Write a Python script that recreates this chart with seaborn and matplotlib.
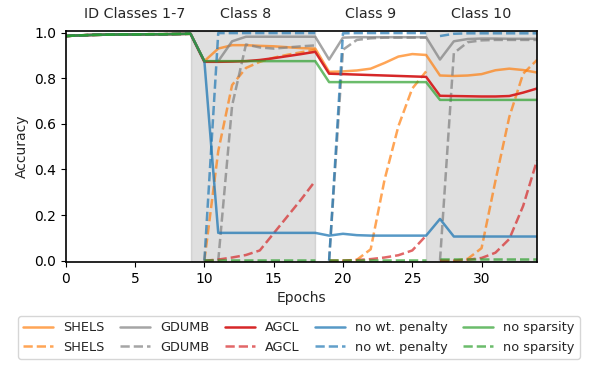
import numpy as np
import pandas as pd
import matplotlib
matplotlib.use('Agg')
import matplotlib.pyplot as plt
from matplotlib.lines import Line2D
import seaborn as sns

# Épocas y segmentos (una fase por clase nueva).
epochs = list(range(35))
segment = [0] * 10 + [1] * 9 + [2] * 8 + [3] * 8

base = [0.985, 0.988, 0.990, 0.991, 0.992, 0.992, 0.993, 0.993, 0.994, 0.995]

shels_solid = base + [0.875, 0.930, 0.945, 0.945, 0.942, 0.940, 0.936, 0.932, 0.930] \
    + [0.828, 0.830, 0.834, 0.842, 0.867, 0.895, 0.906, 0.902] \
    + [0.812, 0.810, 0.812, 0.818, 0.835, 0.842, 0.836, 0.825]
shels_dash = base + [0.0, 0.48, 0.77, 0.845, 0.872, 0.890, 0.903, 0.914, 0.925] \
    + [0.0, 0.0, 0.004, 0.05, 0.355, 0.59, 0.755, 0.83] \
    + [0.0, 0.0, 0.008, 0.055, 0.35, 0.63, 0.82, 0.88]

gdumb_solid = base + [0.873, 0.875, 0.962, 0.982, 0.982, 0.982, 0.982, 0.982, 0.982] \
    + [0.882, 0.978, 0.980, 0.980, 0.980, 0.980, 0.980, 0.980] \
    + [0.882, 0.962, 0.972, 0.974, 0.974, 0.973, 0.973, 0.973]
gdumb_dash = base + [0.0, 0.0, 0.68, 0.948, 0.935, 0.930, 0.935, 0.940, 0.944] \
    + [0.0, 0.925, 0.968, 0.975, 0.978, 0.978, 0.978, 0.978] \
    + [0.0, 0.91, 0.958, 0.966, 0.968, 0.968, 0.968, 0.968]

agcl_solid = base + [0.872, 0.872, 0.873, 0.875, 0.880, 0.888, 0.897, 0.906, 0.916] \
    + [0.820, 0.818, 0.816, 0.814, 0.812, 0.810, 0.808, 0.806] \
    + [0.723, 0.722, 0.721, 0.720, 0.720, 0.722, 0.737, 0.755]
agcl_dash = base + [0.0, 0.005, 0.014, 0.025, 0.045, 0.12, 0.195, 0.27, 0.35] \
    + [0.0, 0.0, 0.003, 0.007, 0.014, 0.024, 0.045, 0.11] \
    + [0.0, 0.0, 0.004, 0.012, 0.035, 0.095, 0.24, 0.44]

nowt_solid = base + [0.875, 0.122, 0.122, 0.122, 0.122, 0.122, 0.122, 0.122, 0.122] \
    + [0.110, 0.118, 0.112, 0.110, 0.110, 0.110, 0.110, 0.110] \
    + [0.183, 0.106, 0.106, 0.106, 0.106, 0.106, 0.106, 0.106]
nowt_dash = base + [0.0, 0.998, 0.998, 0.998, 0.998, 0.998, 0.998, 0.998, 0.998] \
    + [0.0, 0.997, 0.998, 0.998, 0.998, 0.998, 0.998, 0.998] \
    + [0.985, 0.995, 0.997, 0.997, 0.997, 0.997, 0.997, 0.997]

nospar_solid = base + [0.875] * 9 + [0.783] * 8 + [0.705] * 8
nospar_dash = base + [0.003] * 9 + [0.003] * 8 + [0.006] * 8

methods = ['SHELS', 'GDUMB', 'AGCL', 'no wt. penalty', 'no sparsity']
colors = ['tab:orange', 'tab:gray', 'tab:red', 'tab:blue', 'tab:green']
solid_alpha = [0.7, 0.7, 1.0, 0.75, 0.7]
series = {
    'SHELS': (shels_solid, shels_dash),
    'GDUMB': (gdumb_solid, gdumb_dash),
    'AGCL': (agcl_solid, agcl_dash),
    'no wt. penalty': (nowt_solid, nowt_dash),
    'no sparsity': (nospar_solid, nospar_dash),
}

phase_labels = ['ID Classes 1-7', 'Class 8', 'Class 9', 'Class 10']
phase_centers = [5, 13, 22, 30]

sns.set_style('ticks')
fig = plt.figure(figsize=(5.98, 3.65), dpi=100)
ax = fig.add_axes([0.110, 0.282, 0.788, 0.633])

# Zonas sombreadas.
ax.axvspan(9, 18, color='gray', alpha=0.25, lw=1)
ax.axvspan(26, 34, color='gray', alpha=0.25, lw=1)

handles_solid, handles_dash = [], []
for m, c, a in zip(methods, colors, solid_alpha):
    solid, dash = series[m]
    df_s = pd.DataFrame({'Epoch': epochs, 'Acc': solid})
    df_d = pd.DataFrame({'Epoch': epochs, 'Acc': dash, 'seg': segment})
    sns.lineplot(data=df_s, x='Epoch', y='Acc', color=c, alpha=a, lw=1.8, ax=ax)
    sns.lineplot(data=df_d, x='Epoch', y='Acc', units='seg', estimator=None,
                 color=c, alpha=0.7, lw=1.8, ls='--', ax=ax)
    handles_solid.append(Line2D([], [], color=c, alpha=a, lw=1.8, label=m))
    handles_dash.append(Line2D([], [], color=c, alpha=0.7, lw=1.8, ls='--', label=m))

handles = []
for hs, hd in zip(handles_solid, handles_dash):
    handles += [hs, hd]

for lab, xc in zip(phase_labels, phase_centers):
    ax.text(xc, 1.045, lab, ha='center', va='bottom', fontsize=10.3,
            transform=ax.get_xaxis_transform())

ax.set_xlim(0, 34)
ax.set_ylim(-0.006, 1.007)
ax.set_xticks([0, 5, 10, 15, 20, 25, 30])
ax.set_yticks([0.0, 0.2, 0.4, 0.6, 0.8, 1.0])
ax.set_xlabel('Epochs', fontsize=10, labelpad=4)
ax.set_ylabel('Accuracy', fontsize=10)
ax.tick_params(labelsize=10, colors='black')
for sp in ax.spines.values():
    sp.set_color('black')
    sp.set_linewidth(1.2)

fig.legend(handles=handles, ncol=5, loc='upper center', bbox_to_anchor=(0.5, 0.152),
           fontsize=9.3, frameon=True, handlelength=2.3, columnspacing=1.2)

fig.savefig('out.png', dpi=100)
